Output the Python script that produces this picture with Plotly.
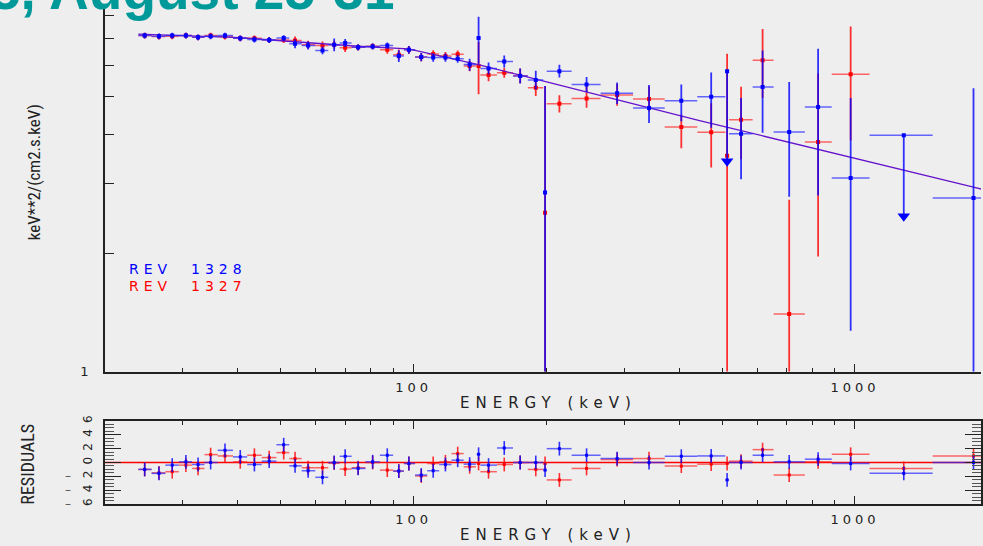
import math
import plotly.graph_objects as go

# ---------------- data ----------------
energy = [24.6, 26.5, 28.4, 30.5, 32.5, 34.7, 37.4, 40.5, 43.6, 47.1,
          50.8, 53.9, 57.7, 62.2, 66.1, 70.0, 74.9, 80.8, 87.2, 92.6,
          97.6, 104.1, 110.8, 118.1, 125.9, 134.0, 140.4, 147.9, 160.5, 174.4,
          189.2, 198.6, 214.0, 246.6, 289.2, 341.6, 404.2, 472.4, 513.3, 552.1,
          617.7, 709.6, 825.1, 977.9, 1290, 1856]
e_lo = [23.8, 25.5, 27.4, 29.4, 31.5, 33.6, 36.0, 39.0, 42.0, 45.3,
        48.9, 52.3, 55.8, 59.9, 64.1, 68.0, 72.4, 77.8, 83.9, 89.9,
        95.1, 100.8, 107.4, 114.3, 121.9, 129.9, 139.0, 141.7, 154.5, 168.0,
        181.5, 196.8, 200.3, 228.1, 265.3, 314.3, 370.7, 439.3, 508.7, 518.3,
        586.4, 654.2, 770.0, 886.0, 1079, 1500]
e_hi = [25.5, 27.4, 29.4, 31.5, 33.6, 36.0, 39.0, 42.0, 45.3, 48.9,
        52.3, 55.8, 59.9, 64.1, 68.0, 72.4, 77.8, 83.9, 89.9, 95.1,
        100.8, 107.4, 114.3, 121.9, 129.9, 138.4, 141.7, 154.5, 168.0, 181.5,
        196.8, 200.3, 228.1, 265.3, 314.3, 370.7, 439.3, 508.7, 518.3, 586.4,
        654.2, 770.0, 886.0, 1079, 1500, 2100]

# REV 1328 (blue) - keV^2/(cm2.s.keV)
rev1328_flux = [7.13, 7.10, 7.13, 7.13, 7.06, 7.10, 7.13, 7.02, 6.97, 6.95,
                7.03, 6.80, 6.73, 6.54, 6.76, 6.83, 6.66, 6.69, 6.73, 6.33,
                6.56, 6.29, 6.27, 6.27, 6.23, 6.02, 7.03, 5.88, 6.13, 5.63,
                5.50, 2.85, 5.79, 5.36, 5.09, 4.67, 4.87, 4.99, 5.79, 4.02,
                5.28, 4.06, 4.70, 3.10, 3.98, 2.76]
rev1328_err_hi = [0.12, 0.12, 0.12, 0.12, 0.12, 0.12, 0.12, 0.12, 0.12, 0.12,
                  0.12, 0.18, 0.16, 0.15, 0.25, 0.16, 0.12, 0.12, 0.12, 0.22,
                  0.15, 0.15, 0.15, 0.15, 0.15, 0.21, 0.93, 0.21, 0.22, 0.25,
                  0.31, 2.46, 0.22, 0.24, 0.33, 0.67, 0.49, 0.76, 0.0, 0.93,
                  1.26, 1.38, 1.90, 1.85, 0.0, 2.48]
rev1328_err_lo = [0.12, 0.12, 0.12, 0.12, 0.12, 0.12, 0.12, 0.12, 0.12, 0.12,
                  0.12, 0.18, 0.16, 0.15, 0.25, 0.16, 0.12, 0.12, 0.12, 0.22,
                  0.15, 0.15, 0.15, 0.15, 0.15, 0.21, 0.98, 0.20, 0.21, 0.24,
                  0.29, 2.50, 0.21, 0.23, 0.31, 0.39, 0.55, 0.83, 2.37, 0.94,
                  1.24, 1.28, 1.90, 1.83, 1.50, 2.30]
# upper limits of REV 1328 (arrow positions)
ul_energy = [513.3, 1290]
ul_arrow = [3.42, 2.48]

# REV 1327 (red) - first 44 bins are visible in the upper panel
rev1327_flux = [7.13, 7.09, 7.10, 7.13, 7.06, 7.13, 7.09, 7.02, 7.02, 6.95,
                6.95, 6.93, 6.76, 6.73, 6.76, 6.64, 6.66, 6.70, 6.56, 6.38,
                6.56, 6.29, 6.40, 6.33, 6.39, 5.97, 5.97, 5.66, 5.74, 5.64,
                5.26, 2.53, 4.79, 4.94, 5.04, 4.92, 4.18, 4.05, 3.53, 4.36,
                6.17, 1.40, 3.83, 5.69]
rev1327_err_hi = [0.12, 0.12, 0.12, 0.12, 0.12, 0.12, 0.12, 0.12, 0.12, 0.12,
                  0.12, 0.16, 0.16, 0.16, 0.16, 0.16, 0.12, 0.12, 0.15, 0.19,
                  0.15, 0.15, 0.15, 0.15, 0.15, 0.18, 0.90, 0.20, 0.17, 0.24,
                  0.25, 2.78, 0.24, 0.36, 0.33, 0.38, 0.31, 0.75, 2.88, 0.93,
                  1.24, 1.33, 1.88, 1.83]
rev1327_err_lo = [0.12, 0.12, 0.12, 0.12, 0.12, 0.12, 0.12, 0.12, 0.12, 0.12,
                  0.12, 0.16, 0.16, 0.16, 0.16, 0.16, 0.12, 0.12, 0.15, 0.19,
                  0.15, 0.15, 0.15, 0.15, 0.15, 0.18, 0.91, 0.20, 0.17, 0.24,
                  0.25, 2.20, 0.24, 0.26, 0.31, 0.34, 0.49, 0.75, 3.00, 0.90,
                  1.22, 1.00, 1.87, 1.83]

# residuals (sigma units)
rev1328_resid = [-1.0, -1.57, -0.38, 0.1, -0.29, 0.0, 1.76, 0.81, -0.29, 0.19,
                 2.57, -0.48, -1.19, -2.14, 0.0, 0.9, -0.86, 0.1, 1.05, -1.24,
                 -0.14, -1.81, -1.19, -0.29, 0.33, -0.24, 1.19, -0.38, 2.1, 0.0,
                 0.0, -1.1, 2.0, 1.05, 0.57, 0.0, 0.9, 0.95, -2.52, 0.0,
                 1.05, 0.1, 0.48, -0.14, -1.57, 0.0]
rev1327_resid = [-1.0, -1.5, -1.33, -0.38, -0.86, 1.14, 0.95, 0.1, 1.05, 0.71,
                 1.43, 0.57, -0.76, -0.76, -0.1, -0.95, -0.76, 0.0, -1.1, -1.24,
                 -0.14, -1.95, -0.14, 0.1, 1.29, -0.62, -0.14, -1.33, -0.29, 0.0,
                 -1.0, -0.14, -2.52, -0.86, 0.43, 0.57, -0.52, -0.24, -0.14, 0.19,
                 1.86, -1.81, 0.1, 1.19, -0.86, 0.95]

# model curve
model_energy = [23.8, 40.5, 50.1, 66.0, 74.7, 97.4, 103.7, 110.9, 140.2, 174.3, 444.6, 1856, 2000]
model_flux = [7.19, 7.05, 6.92, 6.76, 6.70, 6.60, 6.50, 6.38, 6.02, 5.66, 4.34, 2.94, 2.88]

x_major = [100, 1000]
x_major_text = ["100", "1000"]
x_minor = [30, 40, 50, 60, 70, 80, 90, 200, 300, 400, 500, 600, 700, 800, 900]
y_minor = [2, 3, 4, 5, 6, 7, 8, 9]
res_ticks = [-6, -4, -2, 0, 2, 4, 6]
res_ticktext = ["6", "4", "2", "0", "2", "4", "6"]
res_minor = [v / 2 for v in range(-12, 13)]

title_text = "5, August 25-31"
legend_1328 = "REV\u00a0\u00a01328"
legend_1327 = "REV\u00a0\u00a01327"

# ---------------- styling ----------------
BLUE = "#0000ff"
RED = "#ff0000"
BLUE_A = "rgba(0,0,255,0.8)"
RED_A = "rgba(255,0,0,0.8)"
BLUE_H = "rgba(40,40,255,0.7)"
RED_H = "rgba(255,40,40,0.7)"
MODEL = "rgb(102,20,204)"
AX = "#222222"
BG = "#eeeeee"
TICKFONT = dict(family="DejaVu Sans", size=13, color="#222222")
NARROW = "Liberation Sans Narrow, Roboto Condensed, DejaVu Sans Condensed, sans-serif"


def spaced(t, sp=4):
    return "<span style='letter-spacing:%dpx'>%s</span>" % (sp, t)


n_red = len(rev1327_flux)
ex_plus = [h - c for h, c in zip(e_hi, energy)]
ex_minus = [c - l for c, l in zip(energy, e_lo)]

fig = go.Figure()

# --- upper panel ---
fig.add_trace(go.Scatter(
    x=energy[:n_red], y=rev1327_flux, mode="markers",
    marker=dict(symbol="square", size=4, color=RED),
    error_x=dict(type="data", symmetric=False, array=ex_plus[:n_red],
                 arrayminus=ex_minus[:n_red], color=RED_H, thickness=1.5, width=0),
    error_y=dict(type="data", symmetric=False, array=rev1327_err_hi,
                 arrayminus=rev1327_err_lo, color=RED_A, thickness=1.8, width=0),
    xaxis="x", yaxis="y", showlegend=False, hoverinfo="skip"))

fig.add_trace(go.Scatter(
    x=model_energy, y=model_flux, mode="lines",
    line=dict(color=MODEL, width=1.3), xaxis="x", yaxis="y",
    showlegend=False, hoverinfo="skip"))

fig.add_trace(go.Scatter(
    x=energy, y=rev1328_flux, mode="markers",
    marker=dict(symbol="square", size=4, color=BLUE),
    error_x=dict(type="data", symmetric=False, array=ex_plus,
                 arrayminus=ex_minus, color=BLUE_H, thickness=1.5, width=0),
    error_y=dict(type="data", symmetric=False, array=rev1328_err_hi,
                 arrayminus=rev1328_err_lo, color=BLUE_A, thickness=1.8, width=0),
    xaxis="x", yaxis="y", showlegend=False, hoverinfo="skip"))

fig.add_trace(go.Scatter(
    x=ul_energy, y=ul_arrow, mode="markers",
    marker=dict(symbol="triangle-down", size=11, color=BLUE),
    xaxis="x", yaxis="y", showlegend=False, hoverinfo="skip"))

# --- residual panel ---
fig.add_trace(go.Scatter(
    x=energy, y=rev1327_resid, mode="markers",
    marker=dict(symbol="square", size=3, color=RED),
    error_x=dict(type="data", symmetric=False, array=ex_plus,
                 arrayminus=ex_minus, color=RED_H, thickness=1.5, width=0),
    error_y=dict(type="constant", value=1, color=RED_A, thickness=1.6, width=0),
    xaxis="x2", yaxis="y2", showlegend=False, hoverinfo="skip"))

fig.add_trace(go.Scatter(
    x=energy, y=rev1328_resid, mode="markers",
    marker=dict(symbol="square", size=3, color=BLUE),
    error_x=dict(type="data", symmetric=False, array=ex_plus,
                 arrayminus=ex_minus, color=BLUE_H, thickness=1.5, width=0),
    error_y=dict(type="constant", value=1, color=BLUE_A, thickness=1.6, width=0),
    xaxis="x2", yaxis="y2", showlegend=False, hoverinfo="skip"))

xr = [math.log10(20), math.log10(1930)]
yr = [0, 0.9283]

W, H = 983, 546
ML, MR, MT, MB = 105, 0, 0, 42
PW, PH = W - ML - MR, H - MT - MB


def px(x):
    return (x - ML) / PW


def py(y):
    return (PH - (y - MT)) / PH


main_dom = [py(370), 1.0]
res_dom = [0.0, py(420)]

xaxis_common = dict(
    type="log", range=xr, showgrid=False, zeroline=False,
    showline=True, linecolor=AX, linewidth=1.5,
    ticks="inside", tickcolor=AX, tickwidth=1.2, ticklen=8,
    tickmode="array", tickvals=x_major,
    ticktext=[spaced(t) for t in x_major_text], tickfont=TICKFONT,
    minor=dict(ticks="inside", tickmode="array", tickvals=x_minor,
               ticklen=4, tickcolor=AX, tickwidth=1.2, showgrid=False),
)

fig.update_layout(
    width=W, height=H,
    margin=dict(l=ML, r=MR, t=MT, b=MB),
    paper_bgcolor=BG, plot_bgcolor=BG,
    xaxis=dict(**xaxis_common, anchor="y", domain=[0, 1], mirror=False,
               ticklabelstandoff=3),
    yaxis=dict(type="log", range=yr, domain=main_dom, anchor="x",
               showgrid=False, zeroline=False, showline=True, linecolor=AX,
               linewidth=1.5, ticks="inside", tickcolor=AX, ticklen=9,
               tickmode="array", tickvals=[1], ticktext=["1"],
               tickfont=TICKFONT, ticklabelstandoff=12,
               minor=dict(ticks="inside", tickmode="array", tickvals=y_minor,
                          ticklen=9, tickcolor=AX, tickwidth=1.2, showgrid=False)),
    yaxis3=dict(type="log", range=yr, overlaying="y", side="right", anchor="x",
                showgrid=False, zeroline=False, showline=False, ticks="inside",
                tickcolor=AX, ticklen=3, tickmode="array", tickvals=y_minor,
                showticklabels=False),
    xaxis2=dict(**xaxis_common, anchor="y2", domain=[0, 1], mirror="ticks",
                ticklabelstandoff=3),
    yaxis2=dict(range=[-6, 6], domain=res_dom, anchor="x2",
                showgrid=False, zeroline=False, showline=True, linecolor=AX,
                linewidth=1.5, mirror="ticks", ticks="inside", tickcolor=AX,
                ticklen=16, tickwidth=1.2, tickmode="array", tickvals=res_ticks,
                ticktext=res_ticktext, tickangle=-90, ticklabelstandoff=6,
                tickfont=dict(family="DejaVu Sans", size=12, color="#222222"),
                minor=dict(ticks="inside", tickmode="array", tickvals=res_minor,
                           ticklen=9, tickcolor="#555555", tickwidth=1, showgrid=False)),
    shapes=[dict(type="line", xref="x2 domain", yref="y2", x0=0, x1=1, y0=0, y1=0,
                 line=dict(color=RED, width=1.5), layer="below")],
)

ann = []
ann.append(dict(text=title_text, xref="paper", yref="paper", x=px(397), y=py(17),
                xanchor="right", yanchor="bottom", showarrow=False,
                font=dict(family="Liberation Sans, Arial, sans-serif", size=55,
                          color="#009999", weight="bold")))
ann.append(dict(text=spaced(legend_1328, 5), xref="paper", yref="paper", x=px(127), y=py(266),
                xanchor="left", yanchor="middle", showarrow=False,
                font=dict(family="DejaVu Sans", size=14, color=BLUE)))
ann.append(dict(text=spaced(legend_1327, 5), xref="paper", yref="paper", x=px(127), y=py(283),
                xanchor="left", yanchor="middle", showarrow=False,
                font=dict(family="DejaVu Sans", size=14, color=RED)))
ann.append(dict(text="keV**2/(cm2.s.keV)", xref="paper", yref="paper", x=px(34), y=py(168),
                xanchor="center", yanchor="middle", textangle=-90, showarrow=False,
                font=dict(family=NARROW, size=17, color="#222222")))
ann.append(dict(text=spaced("ENERGY (keV)", 6), xref="paper", yref="paper", x=px(550), y=py(402),
                xanchor="center", yanchor="middle", showarrow=False,
                font=dict(family="DejaVu Sans", size=15, color="#222222")))
ann.append(dict(text=spaced("ENERGY (keV)", 6), xref="paper", yref="paper", x=px(550), y=py(535),
                xanchor="center", yanchor="middle", showarrow=False,
                font=dict(family="DejaVu Sans", size=15, color="#222222")))
ann.append(dict(text="RESIDUALS", xref="paper", yref="paper", x=px(27), y=py(464),
                xanchor="center", yanchor="middle", textangle=-90, showarrow=False,
                font=dict(family=NARROW, size=18, color="#222222")))
for yv in [-2, -4, -6]:
    ann.append(dict(text="\u2013", xref="paper", yref="y2", x=px(68), y=yv,
                    xanchor="center", yanchor="middle", showarrow=False,
                    font=dict(family="DejaVu Sans", size=12, color="#555555")))
fig.update_layout(annotations=ann)

fig.write_html(
    "out.html",
    config={"displayModeBar": False},
    post_script="document.body.style.margin='0';document.body.style.padding='0';"
                "document.body.style.background='#eeeeee';"
                "document.documentElement.style.overflow='hidden';",
)
